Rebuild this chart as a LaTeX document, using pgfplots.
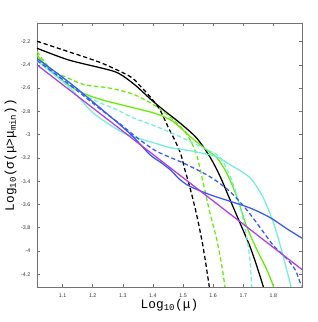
\documentclass[border=0pt]{standalone}
\usepackage{pgfplots}
\pgfplotsset{compat=1.18}
\usepackage{fontspec}
\setmainfont{Liberation Sans}
\newfontfamily\labelfont{Liberation Mono}
\definecolor{cgreen}{RGB}{102,238,0}
\definecolor{ccyan}{RGB}{110,240,220}
\definecolor{cblue}{RGB}{50,90,255}
\definecolor{cmag}{RGB}{175,60,240}
\begin{document}
\begin{tikzpicture}
\path (0pt,0pt) rectangle (238.5pt,241.5pt);
\begin{axis}[
  at={(27.75pt,26.25pt)}, anchor=south west,
  scale only axis, width=198.75pt, height=198pt,
  xmin=1.015, xmax=1.895, ymin=-4.31, ymax=-2.04,
  xtick={1.1,1.2,1.3,1.4,1.5,1.6,1.7,1.8},
  xticklabels={1.1,1.2,1.3,1.4,1.5,1.6,1.7,1.8},
  ytick={-4.2,-4,-3.8,-3.6,-3.4,-3.2,-3,-2.8,-2.6,-2.4,-2.2},
  yticklabels={-4.2,-4,-3.8,-3.6,-3.4,-3.2,-3,-2.8,-2.6,-2.4,-2.2},
  tick align=inside, major tick length=2.2pt,
  tick style={black!55, line width=0.4pt},
  axis line style={black!55, line width=0.5pt},
  ticklabel style={font=\fontsize{4}{5}\selectfont, text=black!80},
  xticklabel style={yshift=-1.5pt},
  yticklabel style={xshift=-1.5pt},
  xlabel={Log\textsubscript{10}(μ)},
  ylabel={Log\textsubscript{10}(σ(μ>μ\textsubscript{min}))},
  label style={font=\labelfont\fontsize{9.6}{11}\selectfont},
  xlabel style={at={(axis description cs:0.5,-0.08)}, anchor=base},
  ylabel style={at={(axis description cs:-0.1,0.5)}, anchor=center, rotate=0},
  clip=true,
  every axis plot/.append style={line width=0.95pt, smooth, tension=0.5},
]
% black dashed
\addplot[black, dash pattern=on 3.2pt off 2pt] coordinates {
(1.015,-2.197) (1.119,-2.286) (1.230,-2.385) (1.324,-2.500) (1.357,-2.580)
(1.390,-2.672) (1.423,-2.786) (1.450,-2.932) (1.4765,-3.069) (1.493,-3.172)
(1.506,-3.301) (1.523,-3.456) (1.545,-3.688) (1.567,-3.971) (1.586,-4.289) (1.589,-4.35)};
% black solid
\addplot[black] coordinates {
(1.015,-2.257) (1.119,-2.357) (1.230,-2.428) (1.285,-2.471) (1.340,-2.572)
(1.390,-2.690) (1.434,-2.786) (1.490,-2.900) (1.545,-3.029) (1.589,-3.190)
(1.623,-3.359) (1.656,-3.559) (1.689,-3.759) (1.722,-3.960) (1.745,-4.131) (1.766,-4.303) (1.770,-4.35)};
% green dashed
\addplot[cgreen, dash pattern=on 3.2pt off 2pt] coordinates {
(1.015,-2.286) (1.063,-2.443) (1.119,-2.514) (1.174,-2.572) (1.257,-2.600)
(1.340,-2.658) (1.412,-2.758) (1.456,-2.846) (1.501,-2.958) (1.523,-3.044)
(1.545,-3.173) (1.567,-3.415) (1.589,-3.670) (1.612,-3.902) (1.628,-4.117) (1.639,-4.305) (1.641,-4.35)};
% green solid
\addplot[cgreen] coordinates {
(1.015,-2.314) (1.058,-2.443) (1.119,-2.572) (1.168,-2.643) (1.230,-2.700)
(1.340,-2.772) (1.412,-2.821) (1.467,-2.887) (1.523,-3.015) (1.578,-3.130)
(1.612,-3.198) (1.645,-3.330) (1.678,-3.530) (1.711,-3.788) (1.745,-3.988)
(1.778,-4.160) (1.800,-4.303) (1.804,-4.35)};
% cyan dashed
\addplot[ccyan, dash pattern=on 3.2pt off 2pt] coordinates {
(1.015,-2.366) (1.091,-2.512) (1.174,-2.658) (1.224,-2.726) (1.274,-2.778)
(1.334,-2.855) (1.413,-2.932) (1.490,-3.018) (1.579,-3.130) (1.623,-3.198)
(1.661,-3.387) (1.689,-3.616) (1.711,-3.874) (1.722,-4.073) (1.728,-4.303) (1.729,-4.35)};
% cyan solid
\addplot[ccyan] coordinates {
(1.015,-2.366) (1.124,-2.597) (1.197,-2.803) (1.257,-2.915) (1.307,-2.992)
(1.357,-3.035) (1.413,-3.078) (1.457,-3.112) (1.523,-3.138) (1.556,-3.155)
(1.612,-3.190) (1.656,-3.258) (1.722,-3.370) (1.766,-3.541) (1.800,-3.756)
(1.822,-3.945) (1.844,-4.160) (1.858,-4.305) (1.860,-4.35)};
% blue dashed
\addplot[cblue, dash pattern=on 3.2pt off 2pt] coordinates {
(1.015,-2.361) (1.124,-2.572) (1.224,-2.778) (1.290,-2.906) (1.347,-3.026)
(1.413,-3.144) (1.501,-3.244) (1.589,-3.361) (1.656,-3.490) (1.711,-3.645)
(1.756,-3.799) (1.800,-3.953) (1.844,-4.065) (1.872,-4.160) (1.885,-4.245) (1.894,-4.305)};
% blue solid
\addplot[cblue] coordinates {
(1.015,-2.344) (1.124,-2.555) (1.224,-2.769) (1.324,-2.992) (1.390,-3.172)
(1.423,-3.233) (1.457,-3.301) (1.490,-3.387) (1.523,-3.445) (1.589,-3.516)
(1.656,-3.573) (1.722,-3.630) (1.789,-3.713) (1.844,-3.808) (1.895,-3.890)};
% magenta
\addplot[cmag] coordinates {
(1.015,-2.400) (1.200,-2.770) (1.400,-3.170) (1.600,-3.570) (1.800,-3.970) (1.895,-4.160)};
\end{axis}
\end{tikzpicture}
\end{document}
